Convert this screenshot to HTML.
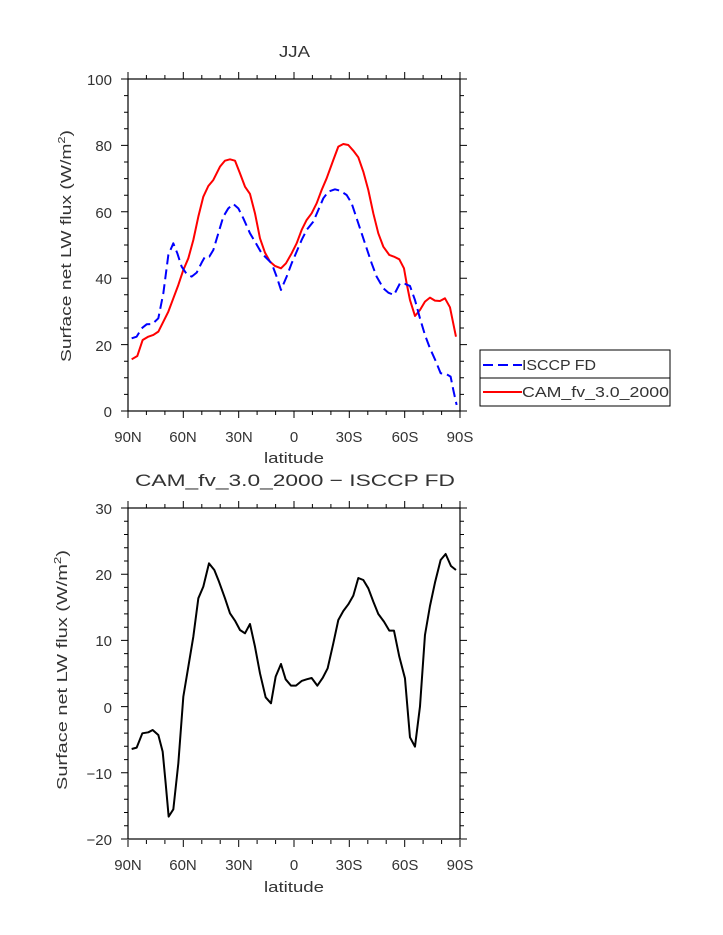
<!DOCTYPE html>
<html><head><style>body{margin:0;background:#fff}svg{display:block}text{font-family:"Liberation Sans",sans-serif;fill:#333}</style></head><body>
<svg width="723" height="935" viewBox="0 0 723 935" xmlns="http://www.w3.org/2000/svg">
<g font-size="15">
<text x="279" y="57" textLength="31" lengthAdjust="spacingAndGlyphs" font-size="16">JJA</text>
<rect x="128" y="79" width="332" height="332" fill="none" stroke="#000" stroke-width="1.2"/>
<g id="tt" stroke="#000" stroke-width="1">
<path d="M128 79v-7M183.3 79v-7M238.7 79v-7M294 79v-7M349.3 79v-7M404.7 79v-7M460 79v-7M128 411v7M183.3 411v7M238.7 411v7M294 411v7M349.3 411v7M404.7 411v7M460 411v7"/>
<path d="M146.4 79v-4M164.9 79v-4M201.8 79v-4M220.2 79v-4M257.1 79v-4M275.6 79v-4M312.4 79v-4M330.9 79v-4M367.8 79v-4M386.2 79v-4M423.1 79v-4M441.6 79v-4M146.4 411v4M164.9 411v4M201.8 411v4M220.2 411v4M257.1 411v4M275.6 411v4M312.4 411v4M330.9 411v4M367.8 411v4M386.2 411v4M423.1 411v4M441.6 411v4"/>
</g>
<g stroke="#000">
<path d="M128 79h-7M128 145.4h-7M128 211.8h-7M128 278.2h-7M128 344.6h-7M128 411h-7M460 79h7M460 145.4h7M460 211.8h7M460 278.2h7M460 344.6h7M460 411h7"/>
<path d="M128 95.6h-4M128 112.2h-4M128 128.8h-4M128 162h-4M128 178.6h-4M128 195.2h-4M128 228.4h-4M128 245h-4M128 261.6h-4M128 294.8h-4M128 311.4h-4M128 328h-4M128 361.2h-4M128 377.8h-4M128 394.4h-4M460 95.6h4M460 112.2h4M460 128.8h4M460 162h4M460 178.6h4M460 195.2h4M460 228.4h4M460 245h4M460 261.6h4M460 294.8h4M460 311.4h4M460 328h4M460 361.2h4M460 377.8h4M460 394.4h4"/>
</g>
<g text-anchor="end"><text x="112" y="85">100</text><text x="112" y="151">80</text><text x="112" y="218">60</text><text x="112" y="284">40</text><text x="112" y="351">20</text><text x="112" y="417">0</text></g>
<g text-anchor="middle"><text x="128" y="442">90N</text><text x="183" y="442">60N</text><text x="239" y="442">30N</text><text x="294" y="442">0</text><text x="349" y="442">30S</text><text x="405" y="442">60S</text><text x="460" y="442">90S</text>
</g>
<text x="264" y="463" textLength="60" lengthAdjust="spacingAndGlyphs">latitude</text>
<text transform="translate(71,362) rotate(-90)" textLength="232" lengthAdjust="spacingAndGlyphs">Surface net LW flux (W/m<tspan font-size="10" dy="-6">2</tspan><tspan dy="6">)</tspan></text>
<g transform="translate(120,70) scale(0.3333)" fill="none" stroke-width="6" stroke-linejoin="round">
<polyline stroke="#f00" points="35,868 52,858 68,810 85,800 100,795 115,785 130,755 145,725 160,685 175,645 190,600 205,565 220,510 235,440 250,380 265,348 280,330 300,290 315,272 330,268 345,272 360,310 375,350 390,372 405,430 420,505 435,548 450,575 465,588 483,595 498,580 515,550 530,520 545,480 560,450 575,430 590,400 605,360 620,325 640,270 655,230 670,222 685,225 700,242 715,262 730,305 745,360 760,430 775,490 790,530 808,555 822,560 838,568 852,595 860,640 870,690 885,738 900,720 915,695 930,683 945,692 960,693 975,685 990,712 1008,800"/>
<polyline stroke="#00f" stroke-dasharray="30,15" points="35,805 50,800 65,775 80,763 97,762 115,745 130,670 145,555 160,520 172,550 185,590 200,612 215,620 230,608 245,578 255,560 268,560 280,540 295,490 310,440 325,415 340,402 355,415 370,445 390,490 405,515 425,550 440,565 455,580 470,620 483,660 500,620 515,580 530,545 545,510 560,480 580,455 595,420 610,385 625,365 645,358 660,362 680,375 695,400 710,445 725,490 740,535 755,580 770,620 790,655 805,668 822,675 840,640 855,642 870,648 885,690 900,745 915,795 930,835 948,875 962,910 978,912 992,920 1000,960 1010,1005"/>
</g>
<rect x="480" y="350" width="190" height="56" fill="#fff" stroke="#000"/>
<line x1="480" y1="378" x2="670" y2="378" stroke="#000"/>
<line x1="483" y1="365" x2="522" y2="365" stroke="#00f" stroke-width="2" stroke-dasharray="10,5"/>
<line x1="483" y1="392" x2="522" y2="392" stroke="#f00" stroke-width="2"/>
<text x="522" y="370" textLength="74" lengthAdjust="spacingAndGlyphs">ISCCP FD</text><text x="522" y="397" textLength="147" lengthAdjust="spacingAndGlyphs">CAM_fv_3.0_2000</text>

<text x="135" y="486" textLength="320" lengthAdjust="spacingAndGlyphs" font-size="17">CAM_fv_3.0_2000 − ISCCP FD</text>
<rect x="128" y="508" width="332" height="331" fill="none" stroke="#000" stroke-width="1.2"/>
<g transform="translate(0,429)" stroke="#000"><use href="#tt"/></g>
<g stroke="#000">
<path d="M128 508h-7M128 574.2h-7M128 640.4h-7M128 706.6h-7M128 772.8h-7M128 839h-7M460 508h7M460 574.2h7M460 640.4h7M460 706.6h7M460 772.8h7M460 839h7"/>
<path d="M128 521.2h-4M128 534.5h-4M128 547.7h-4M128 561h-4M128 587.4h-4M128 600.7h-4M128 613.9h-4M128 627.2h-4M128 653.6h-4M128 666.9h-4M128 680.1h-4M128 693.4h-4M128 719.8h-4M128 733.1h-4M128 746.3h-4M128 759.6h-4M128 786h-4M128 799.3h-4M128 812.5h-4M128 825.8h-4M460 521.2h4M460 534.5h4M460 547.7h4M460 561h4M460 587.4h4M460 600.7h4M460 613.9h4M460 627.2h4M460 653.6h4M460 666.9h4M460 680.1h4M460 693.4h4M460 719.8h4M460 733.1h4M460 746.3h4M460 759.6h4M460 786h4M460 799.3h4M460 812.5h4M460 825.8h4"/>
</g>
<g text-anchor="end"><text x="112" y="514">30</text><text x="112" y="580">20</text><text x="112" y="646">10</text><text x="112" y="713">0</text><text x="112" y="779">−10</text><text x="112" y="845">−20</text></g>
<g text-anchor="middle"><text x="128" y="870">90N</text><text x="183" y="870">60N</text><text x="239" y="870">30N</text><text x="294" y="870">0</text><text x="349" y="870">30S</text><text x="405" y="870">60S</text><text x="460" y="870">90S</text>
</g>
<text x="264" y="892" textLength="60" lengthAdjust="spacingAndGlyphs">latitude</text>
<text transform="translate(67,790) rotate(-90)" textLength="240" lengthAdjust="spacingAndGlyphs">Surface net LW flux (W/m<tspan font-size="10" dy="-6">2</tspan><tspan dy="6">)</tspan></text>
<g transform="translate(120,500) scale(0.3333)" fill="none" stroke-width="6" stroke-linejoin="round">
<polyline stroke="#000" points="35,747 50,743 67,700 85,697 98,690 115,705 128,755 137,850 146,950 160,928 175,790 190,590 205,500 220,410 235,295 250,260 267,190 283,210 297,245 315,295 330,340 345,362 360,390 375,400 390,372 405,440 420,520 437,592 453,610 467,530 483,492 497,538 513,557 528,557 545,543 560,538 575,534 592,557 608,534 623,505 640,430 655,360 670,333 685,313 700,287 715,234 730,240 745,265 760,305 775,342 792,365 808,392 822,392 838,470 855,535 870,712 885,740 900,620 915,405 930,318 945,248 962,180 977,162 993,198 1008,210"/>
</g>
</g>
</svg>
</body></html>
